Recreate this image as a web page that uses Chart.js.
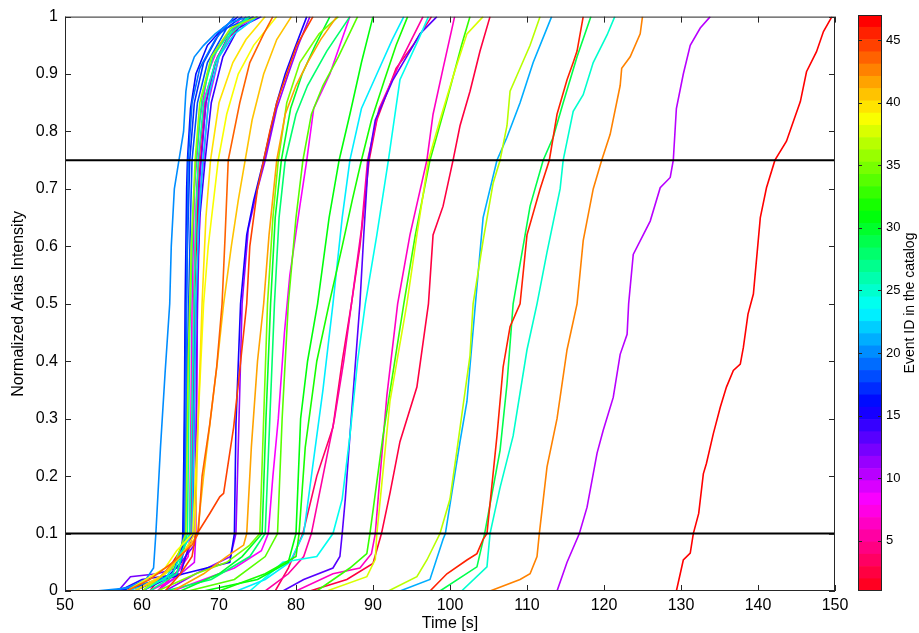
<!DOCTYPE html>
<html>
<head>
<meta charset="utf-8">
<script src="https://cdn.jsdelivr.net/npm/chart.js@4.4.0/dist/chart.umd.min.js"></script>
<style>
    html, body { margin: 0; padding: 0; background: #fff; }
    #wrap { position: relative; width: 919px; height: 633px; }
    #main { position: absolute; left: 0; top: 0; }
    #cbar { position: absolute; left: 840px; top: 0; }
</style>
</head>
<body>
<div id="wrap">
    <canvas id="main" width="919" height="633"></canvas>
    <canvas id="cbar" width="79" height="633"></canvas>
</div>
<script>
// ===== DATOS =====
const timeTicks = [50, 60, 70, 80, 90, 100, 110, 120, 130, 140, 150];
const ariasTicks = [0, 0.1, 0.2, 0.3, 0.4, 0.5, 0.6, 0.7, 0.8, 0.9, 1];
const thresholds = [0.1, 0.75];
const idTicks = [5, 10, 15, 20, 25, 30, 35, 40, 45];
const idRange = [1, 47];

// [time s, normalized Arias intensity] per event
const ev1 = [[61,0],[64,0.05],[66.4,0.1],[66.8,0.5],[67.3,0.7],[67.6,0.75],[68.3,0.85],[69.5,0.92],[71,0.96],[74,1]];
const ev2 = [[81.8,0],[86.6,0.02],[90,0.048],[91.1,0.1],[92.2,0.17],[93.5,0.26],[95.7,0.355],[97.2,0.5],[97.8,0.62],[99.1,0.67],[100.4,0.75],[101.3,0.81],[102.6,0.87],[103.9,0.94],[105.2,1]];
const ev3 = [[77.3,0],[79,0.04],[80.9,0.1],[82.7,0.2],[84.8,0.285],[86,0.4],[87.2,0.5],[88.3,0.6],[89.5,0.75],[90.5,0.82],[93,0.91],[95.2,0.95],[97.6,1]];
const ev4 = [[62,0],[65,0.04],[66.3,0.08],[66.4,0.1],[66.7,0.5],[67.1,0.7],[67.4,0.75],[68.2,0.86],[69.8,0.93],[72,0.98],[74.5,1]];
const ev5 = [[76,0],[79,0.03],[81,0.06],[82,0.1],[83.5,0.2],[85,0.3],[86.2,0.4],[87.2,0.5],[88.5,0.63],[89.3,0.75],[90.8,0.84],[93.5,0.92],[96.5,1]];
const ev6 = [[80,0],[84.8,0.03],[88.3,0.04],[89.8,0.065],[90.3,0.1],[90.6,0.15],[91.8,0.34],[93.2,0.5],[94.8,0.62],[97,0.75],[97.8,0.83],[99.1,0.91],[100.6,1]];
const ev7 = [[61,0],[64,0.02],[66,0.06],[66.2,0.1],[66.5,0.5],[66.8,0.7],[67.1,0.75],[67.5,0.82],[68.5,0.9],[70,0.95],[73,1]];
const ev8 = [[64,0],[68,0.02],[72,0.04],[75.5,0.07],[76.4,0.1],[77,0.2],[77.7,0.3],[78.5,0.45],[79.2,0.55],[80.5,0.67],[81.4,0.75],[82.3,0.84],[84.4,0.9],[85.7,0.95],[87,1]];
const ev9 = [[62,0],[65,0.03],[66.8,0.05],[67,0.1],[67.2,0.5],[67.6,0.7],[68,0.75],[68.6,0.85],[70,0.93],[72,0.98],[75,1]];
const ev10 = [[113.9,0],[115.2,0.05],[116.8,0.1],[117.8,0.146],[118.6,0.204],[119.1,0.24],[119.9,0.28],[121.2,0.337],[122.1,0.412],[123,0.447],[123.2,0.5],[123.8,0.586],[126,0.644],[127.3,0.702],[128.6,0.72],[129,0.75],[129.4,0.84],[130.3,0.9],[131.2,0.95],[132.5,0.98],[133.8,1]];
const ev11 = [[63,0],[67,0.03],[71.5,0.06],[72.2,0.1],[72.6,0.3],[73,0.5],[73.8,0.63],[75,0.7],[76,0.75],[77.5,0.84],[79,0.9],[80.3,0.95],[81.8,1]];
const ev12 = [[56.9,0],[58.5,0.025],[62,0.03],[64.5,0.04],[66.8,0.08],[66.9,0.1],[67.1,0.4],[67.4,0.7],[67.7,0.75],[68.3,0.85],[69.5,0.92],[71,0.96],[73.5,1]];
const ev13 = [[78.3,0],[81,0.02],[84.8,0.04],[85.7,0.06],[86,0.1],[86.4,0.16],[87,0.27],[88.3,0.5],[88.8,0.62],[89.4,0.75],[90.3,0.82],[92.6,0.89],[94.8,0.94],[96.1,0.97],[98.3,1]];
const ev14 = [[57,0],[60,0.02],[65,0.03],[66.6,0.1],[66.9,0.45],[67.5,0.65],[68.2,0.75],[69,0.85],[70.5,0.93],[72.5,0.98],[75.5,1]];
const ev15 = [[60,0],[63,0.02],[65.4,0.03],[71.4,0.05],[72,0.1],[72.2,0.29],[72.8,0.5],[73.6,0.62],[74.5,0.68],[75.8,0.75],[77.5,0.85],[78.6,0.9],[79.7,0.94],[81.4,1]];
const ev16 = [[57,0],[60,0.01],[63,0.02],[65.1,0.05],[65.3,0.1],[65.5,0.3],[65.6,0.5],[65.8,0.7],[65.9,0.75],[66.3,0.84],[67,0.9],[68.5,0.95],[70.5,0.98],[72.5,1]];
const ev17 = [[58,0],[62,0.02],[65.2,0.06],[65.4,0.1],[65.6,0.4],[65.9,0.6],[66.2,0.75],[66.8,0.85],[68,0.92],[70,0.97],[73,1]];
const ev18 = [[59,0],[64,0.03],[65.6,0.1],[65.9,0.4],[66.3,0.65],[66.5,0.75],[67.2,0.85],[68.5,0.92],[71,0.98],[74.5,1]];
const ev19 = [[56,0],[61,0.015],[64.5,0.03],[65.5,0.07],[65.6,0.1],[65.8,0.5],[66,0.75],[66.5,0.85],[67.5,0.91],[69.5,0.96],[72,1]];
const ev20 = [[54,0],[58,0.005],[60.5,0.02],[61.5,0.04],[61.8,0.1],[62.4,0.25],[63,0.38],[63.6,0.5],[63.8,0.6],[64.2,0.7],[64.8,0.75],[65.4,0.8],[65.7,0.87],[66,0.9],[66.8,0.93],[68,0.95],[69.5,0.97],[71.5,0.99],[74,1]];
const ev21 = [[93.5,0],[97.4,0.02],[99.1,0.09],[99.4,0.1],[101.3,0.26],[102.2,0.33],[103.3,0.5],[104.3,0.65],[106.1,0.75],[107.4,0.79],[109.1,0.85],[110.8,0.92],[113.2,1]];
const ev22 = [[58,0],[63,0.02],[66.5,0.1],[67,0.5],[67.4,0.65],[67.9,0.75],[68.8,0.87],[70,0.93],[72,0.97],[75,1]];
const ev23 = [[72.3,0],[76,0.02],[79.2,0.05],[81,0.1],[82,0.2],[83.5,0.35],[84.8,0.5],[86,0.65],[87,0.75],[88.5,0.84],[90.5,0.9],[92.5,0.96],[94,1]];
const ev24 = [[74,0],[78.3,0.05],[82.7,0.06],[84.8,0.1],[86,0.16],[87,0.27],[88,0.4],[89,0.5],[90.5,0.62],[92,0.75],[93.5,0.89],[95.9,0.96],[97.2,1]];
const ev25 = [[101.5,0],[104.8,0.042],[105.2,0.1],[106.5,0.18],[108.2,0.27],[110,0.42],[111.3,0.5],[112.6,0.59],[114.3,0.7],[114.7,0.75],[116,0.835],[117.3,0.864],[118.6,0.92],[120.4,0.968],[121.4,1]];
const ev26 = [[60,0],[64,0.03],[66.2,0.1],[66.6,0.4],[67,0.65],[67.3,0.75],[68,0.85],[69.5,0.92],[71.5,0.97],[74,1]];
const ev27 = [[61,0],[64.5,0.03],[65.9,0.1],[66.2,0.45],[66.6,0.65],[67,0.75],[67.8,0.86],[69.2,0.93],[71.8,0.98],[74,1]];
const ev28 = [[63,0],[69,0.02],[74,0.06],[76,0.1],[76.6,0.3],[77.2,0.5],[77.8,0.65],[78.6,0.75],[80,0.83],[81.5,0.88],[84,0.94],[87,1]];
const ev29 = [[98.7,0],[103.5,0.042],[104.5,0.1],[106.5,0.245],[107.4,0.36],[108.2,0.5],[110.4,0.67],[112.1,0.75],[113.4,0.79],[114.7,0.85],[116.5,0.93],[118.3,1]];
const ev30 = [[65,0],[70,0.03],[73,0.06],[75.6,0.1],[76.1,0.3],[76.7,0.5],[77.3,0.65],[78.1,0.75],[79.3,0.84],[80.8,0.9],[82.5,0.95],[84.4,1]];
const ev31 = [[68,0],[75,0.02],[79,0.05],[80,0.1],[80.6,0.3],[81.5,0.4],[82.8,0.5],[84.3,0.65],[85.6,0.75],[87,0.83],[88.5,0.92],[90,1]];
const ev32 = [[70,0],[76,0.03],[80,0.06],[80.4,0.1],[81.2,0.25],[82.7,0.4],[84.3,0.5],[86,0.6],[87.3,0.68],[88.5,0.75],[89.8,0.82],[91.5,0.89],[93,0.95],[94.5,1]];
const ev33 = [[82.7,0],[87,0.04],[89.2,0.065],[89.6,0.1],[91.3,0.27],[94,0.5],[95.5,0.62],[97.4,0.75],[99.5,0.85],[101.5,0.95],[102.6,1]];
const ev34 = [[66,0],[72,0.02],[76,0.06],[77.6,0.1],[78.2,0.3],[79,0.5],[80,0.65],[80.9,0.75],[82,0.83],[83.5,0.88],[85.5,0.93],[88,1]];
const ev35 = [[62,0],[67,0.03],[71,0.05],[74,0.08],[75.3,0.1],[75.8,0.3],[76.3,0.5],[77,0.65],[77.7,0.75],[78.8,0.85],[80.5,0.92],[83,0.97],[85.5,1]];
const ev36 = [[60,0],[64,0.04],[65.7,0.1],[66,0.4],[66.4,0.6],[66.9,0.75],[67.5,0.85],[69,0.93],[71.5,0.98],[75,1]];
const ev37 = [[92,0],[95.7,0.025],[97,0.054],[98.7,0.1],[100,0.16],[100.9,0.245],[102.6,0.41],[103,0.5],[104.3,0.61],[105.6,0.71],[106.5,0.75],[107.4,0.81],[107.8,0.87],[109.1,0.91],[110.4,0.95],[111.7,1]];
const ev38 = [[84,0],[89.2,0.025],[90.3,0.055],[90.5,0.1],[90.8,0.14],[92.2,0.33],[94.4,0.5],[95.7,0.62],[97.2,0.75],[98.7,0.82],[100.5,0.9],[102.2,0.97],[104.3,1]];
const ev39 = [[58,0],[63,0.04],[64.5,0.07],[66.6,0.1],[67.3,0.3],[68,0.5],[68.6,0.6],[69.9,0.75],[71,0.83],[72.5,0.9],[74.5,0.95],[77.5,1]];
const ev40 = [[59,0],[63,0.03],[65.5,0.07],[66.9,0.1],[67.3,0.3],[67.8,0.5],[68.3,0.65],[68.9,0.75],[70,0.85],[71.8,0.92],[73.5,0.96],[76,1]];
const ev41 = [[59,0],[62,0.02],[65,0.06],[66.8,0.09],[67.2,0.1],[68,0.2],[68.9,0.3],[69.8,0.4],[70.6,0.5],[71.6,0.6],[72.5,0.68],[73.4,0.75],[74.3,0.82],[75.8,0.9],[77.5,0.96],[79.4,1]];
const ev42 = [[64,0],[68,0.03],[71,0.06],[73.2,0.08],[73.6,0.1],[74.2,0.25],[75,0.4],[75.8,0.5],[76.5,0.62],[77.5,0.75],[78.6,0.83],[80,0.88],[81.5,0.92],[83.2,0.96],[85.3,1]];
const ev43 = [[105.2,0],[109.1,0.02],[110.4,0.03],[111.3,0.06],[111.6,0.1],[112.6,0.216],[113.9,0.3],[115.2,0.42],[116.5,0.5],[117.3,0.61],[118.6,0.7],[119.7,0.75],[120.8,0.795],[122.1,0.88],[122.3,0.91],[123.4,0.93],[124.7,0.97],[125,1]];
const ev44 = [[58,0],[61,0.02],[64,0.05],[66.5,0.08],[67.3,0.1],[67.8,0.2],[68.8,0.29],[69.7,0.39],[70.4,0.5],[70.8,0.62],[71.2,0.75],[72.7,0.85],[74,0.92],[75.8,0.97],[77,1]];
const ev45 = [[63,0],[65,0.03],[66.5,0.06],[67,0.1],[67.4,0.105],[68.8,0.135],[70.1,0.164],[70.6,0.17],[71.9,0.285],[72.5,0.36],[73.6,0.5],[74,0.6],[75,0.7],[75.8,0.75],[76.6,0.8],[77.5,0.85],[78.8,0.9],[80.1,0.95],[82.2,1]];
const ev46 = [[97.4,0],[99.6,0.03],[102.2,0.054],[103.5,0.065],[104.3,0.09],[104.8,0.1],[106.1,0.27],[106.9,0.39],[107.8,0.46],[109.1,0.5],[110,0.62],[111.7,0.7],[112.9,0.75],[113.9,0.83],[115.2,0.89],[116,0.92],[116.5,0.94],[117.3,1]];
const ev47 = [[129.4,0],[130.3,0.054],[131.2,0.066],[131.6,0.1],[132.3,0.135],[132.9,0.204],[133.3,0.222],[134.2,0.274],[135.1,0.32],[135.9,0.355],[136.8,0.384],[137.7,0.395],[138.1,0.424],[138.7,0.482],[139.4,0.517],[140.3,0.65],[141.1,0.702],[142.2,0.75],[143.7,0.783],[144.6,0.818],[145.5,0.852],[146.3,0.904],[147.6,0.939],[148.5,0.974],[149.6,1]];

const events = [ev1, ev2, ev3, ev4, ev5, ev6, ev7, ev8, ev9, ev10, ev11, ev12, ev13, ev14, ev15, ev16,
    ev17, ev18, ev19, ev20, ev21, ev22, ev23, ev24, ev25, ev26, ev27, ev28, ev29, ev30, ev31, ev32,
    ev33, ev34, ev35, ev36, ev37, ev38, ev39, ev40, ev41, ev42, ev43, ev44, ev45, ev46, ev47];

// ===== COLORMAP (hsv invertido, 47 niveles) =====
const nColors = idRange[1] - idRange[0] + 1;
function eventColor(id) {
    const hue = (idRange[1] - id) / nColors * 360;
    return `hsl(${hue.toFixed(1)}, 100%, 50%)`;
}

const FONT = 'Liberation Sans, Arial, sans-serif';
const axisColor = '#262626';

// ===== GRAFICO PRINCIPAL =====
const curveSets = events.map((pts, i) => ({
    label: 'Event ' + (i + 1),
    data: pts.map(p => ({ x: p[0], y: p[1] })),
    borderColor: eventColor(i + 1),
    borderWidth: 1.6,
    pointRadius: 0,
    showLine: true,
    fill: false,
    order: events.length - i + 1
}));
const thresholdSets = thresholds.map(v => ({
    label: 'thr ' + v,
    data: [{ x: timeTicks[0], y: v }, { x: timeTicks[timeTicks.length - 1], y: v }],
    borderColor: '#000',
    borderWidth: 2,
    pointRadius: 0,
    showLine: true,
    order: 0
}));

// caja y ticks hacia dentro (estilo MATLAB)
const boxPlugin = {
    id: 'boxTicks',
    afterDraw(chart) {
        const { ctx, chartArea: a, scales: { x, y } } = chart;
        ctx.save();
        ctx.strokeStyle = axisColor;
        ctx.lineWidth = 1;
        ctx.strokeRect(a.left + 0.5, a.top + 0.5, a.right - a.left - 1, a.bottom - a.top - 1);
        ctx.beginPath();
        const L = 6;
        timeTicks.forEach(v => {
            const px = Math.round(x.getPixelForValue(v)) + 0.5;
            ctx.moveTo(px, a.bottom); ctx.lineTo(px, a.bottom - L);
            ctx.moveTo(px, a.top); ctx.lineTo(px, a.top + L);
        });
        ariasTicks.forEach(v => {
            const py = Math.round(y.getPixelForValue(v)) + 0.5;
            ctx.moveTo(a.left, py); ctx.lineTo(a.left + L, py);
            ctx.moveTo(a.right, py); ctx.lineTo(a.right - L, py);
        });
        ctx.stroke();
        ctx.restore();
    }
};

new Chart(document.getElementById('main'), {
    type: 'scatter',
    data: { datasets: thresholdSets.concat(curveSets) },
    options: {
        responsive: false,
        animation: false,
        devicePixelRatio: 1,
        layout: { padding: { top: 15, right: 84, left: 0, bottom: 0 } },
        plugins: { legend: { display: false }, tooltip: { enabled: false } },
        elements: { line: { tension: 0 } },
        scales: {
            x: {
                type: 'linear', min: 50, max: 150,
                afterBuildTicks: s => { s.ticks = timeTicks.map(v => ({ value: v })); },
                afterFit: s => { s.height = 42; },
                grid: { display: false, drawTicks: false },
                border: { display: false },
                ticks: { color: '#000', font: { family: FONT, size: 16 }, padding: 5, maxRotation: 0 },
                title: { display: true, text: 'Time [s]', color: '#000', font: { family: FONT, size: 16 }, padding: { top: 0, bottom: 0 } }
            },
            y: {
                type: 'linear', min: 0, max: 1,
                afterBuildTicks: s => { s.ticks = ariasTicks.map(v => ({ value: v })); },
                afterFit: s => { s.width = 65; },
                grid: { display: false, drawTicks: false },
                border: { display: false },
                ticks: { color: '#000', font: { family: FONT, size: 16 }, padding: 7, callback: v => String(v) },
                title: { display: true, text: 'Normalized Arias Intensity', color: '#000', font: { family: FONT, size: 16 }, padding: { top: 9, bottom: 0 } }
            }
        }
    },
    plugins: [boxPlugin]
});

// ===== BARRA DE COLOR =====
const bandIds = [];
for (let id = idRange[0]; id <= idRange[1]; id++) bandIds.push(id);
const bandStep = (idRange[1] - idRange[0]) / nColors;
const bandSets = bandIds.map((id, k) => ({
    data: [[idRange[0] + k * bandStep, idRange[0] + (k + 1) * bandStep]],
    backgroundColor: eventColor(id),
    borderWidth: 0,
    barPercentage: 1,
    categoryPercentage: 1,
    grouped: false
}));

const cbarPlugin = {
    id: 'cbarFrame',
    afterDraw(chart) {
        const { ctx, chartArea: a, scales: { y } } = chart;
        ctx.save();
        ctx.strokeStyle = axisColor;
        ctx.lineWidth = 1;
        ctx.strokeRect(a.left + 0.5, a.top + 0.5, a.right - a.left - 1, a.bottom - a.top - 1);
        ctx.beginPath();
        idTicks.forEach(v => {
            const py = Math.round(y.getPixelForValue(v)) + 0.5;
            ctx.moveTo(a.left, py); ctx.lineTo(a.left + 4, py);
            ctx.moveTo(a.right, py); ctx.lineTo(a.right - 4, py);
        });
        ctx.stroke();
        // titulo vertical (de abajo hacia arriba)
        ctx.fillStyle = '#000';
        ctx.font = '14px ' + FONT;
        ctx.textAlign = 'center';
        ctx.textBaseline = 'middle';
        ctx.translate(70, (a.top + a.bottom) / 2);
        ctx.rotate(-Math.PI / 2);
        ctx.fillText('Event ID in the catalog', 0, 0);
        ctx.restore();
    }
};

new Chart(document.getElementById('cbar'), {
    type: 'bar',
    data: { labels: ['id'], datasets: bandSets },
    options: {
        responsive: false,
        animation: false,
        devicePixelRatio: 1,
        layout: { padding: { top: 15, right: 0, left: 18, bottom: 42 } },
        plugins: { legend: { display: false }, tooltip: { enabled: false } },
        scales: {
            x: { display: false },
            y: {
                position: 'right', min: idRange[0], max: idRange[1],
                afterBuildTicks: s => { s.ticks = idTicks.map(v => ({ value: v })); },
                afterFit: s => { s.width = 37; },
                grid: { display: false, drawTicks: false },
                border: { display: false },
                ticks: { color: '#000', font: { family: FONT, size: 13 }, padding: 4 }
            }
        }
    },
    plugins: [cbarPlugin]
});
</script>
</body>
</html>
